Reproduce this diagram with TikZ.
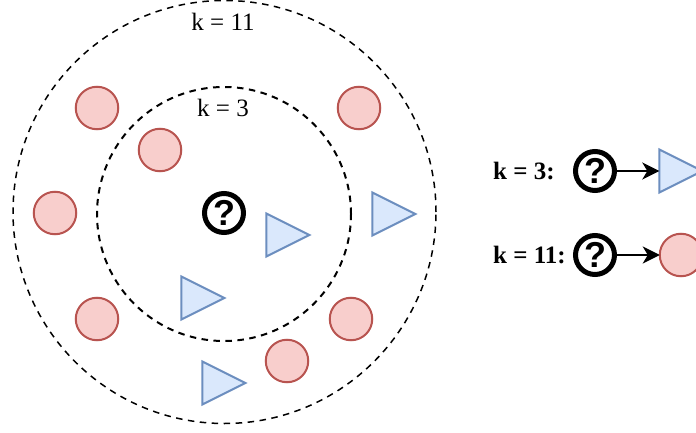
\documentclass[tikz,border=0pt]{standalone}
\usepackage{fontspec}
\setmainfont{Liberation Serif}
\newfontfamily\qfont{Liberation Sans}
\usetikzlibrary{shapes.geometric,arrows.meta}
\definecolor{redfill}{HTML}{F8CECC}
\definecolor{redline}{HTML}{B85450}
\definecolor{bluefill}{HTML}{DAE8FC}
\definecolor{blueline}{HTML}{6C8EBF}
\tikzset{
  ring/.style={circle,draw=black,dash pattern=on 6.5pt off 5.5pt,line width=#1,inner sep=0pt,fill=none},
  redball/.style={circle,draw=redline,fill=redfill,line width=2pt,minimum size=42.5pt,inner sep=0pt},
  bluetri/.style={isosceles triangle,isosceles triangle apex angle=53,isosceles triangle stretches,draw=blueline,fill=bluefill,line width=2pt,minimum height=43pt,minimum width=43pt,inner sep=0pt,anchor=lower side},
  query/.style={circle,draw=black,line width=5pt,minimum size=39pt,inner sep=0pt,font=\qfont\bfseries\fontsize{36}{36}\selectfont},
  lab/.style={font=\fontsize{25}{28}\selectfont,inner sep=0pt},
  blab/.style={font=\bfseries\fontsize{25}{28}\selectfont,inner sep=0pt,anchor=west},
  conn/.style={line width=2pt,-{Stealth[length=17pt,width=17pt,inset=5pt]},shorten >=-1pt}
}
\begin{document}
\begin{tikzpicture}[x=1pt,y=-1pt]
\useasboundingbox (0,0) rectangle (696,433);
\node[ring=1.5pt,minimum size=423pt] (outer) at (224.5,212) {};
\node[ring=2pt,minimum size=254pt] (inner) at (224,214) {};
\node[lab] (k11) at (223,22) {k = 11};
\node[lab] (k3) at (223,108) {k = 3};
\node[redball] (r1) at (97,108) {};
\node[redball] (r2) at (359,108) {};
\node[redball] (r3) at (160,150) {};
\node[redball] (r4) at (55,213) {};
\node[redball] (r5) at (97,319) {};
\node[redball] (r6) at (351,319) {};
\node[redball] (r7) at (287,361) {};
\node[bluetri] (t1) at (265.3,235) {};
\node[bluetri] (t2) at (371.3,214) {};
\node[bluetri] (t3) at (180.3,298) {};
\node[bluetri] (t4) at (201.3,383) {};
\node[query] (q0) at (224,213) {?};
\node[blab] (l3) at (493,171) {k = 3:};
\node[blab] (l11) at (493,255) {k = 11:};
\node[query] (q1) at (595,171) {?};
\node[query] (q2) at (595,255) {?};
\node[bluetri] (t5) at (658.3,171) {};
\node[redball] (r8) at (681,255) {};
\draw[conn] (q1) -- (t5.lower side);
\draw[conn] (q2) -- (r8);
\end{tikzpicture}
\end{document}
